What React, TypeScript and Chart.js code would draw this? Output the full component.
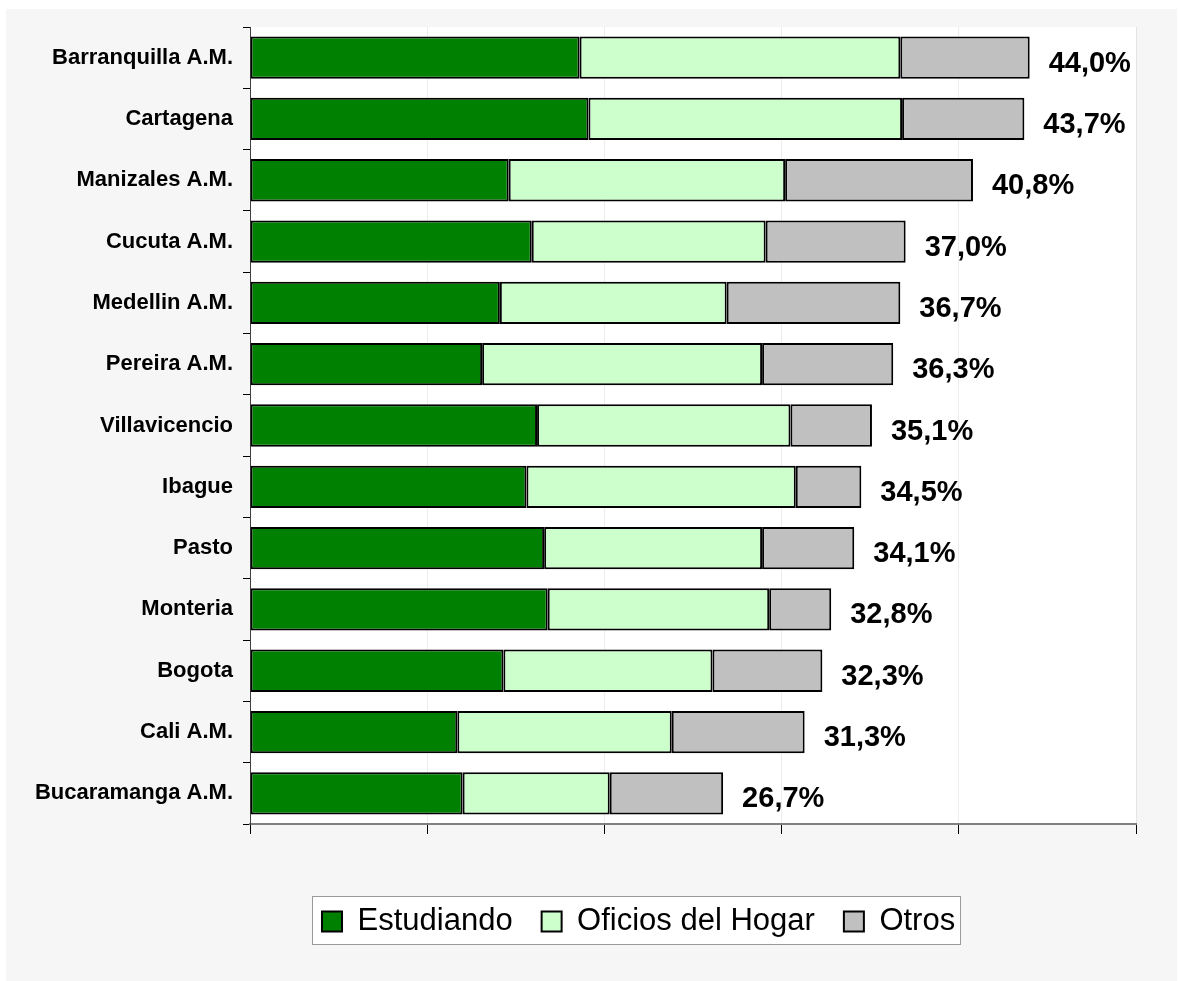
import React, { useEffect, useRef } from 'react';
import { Chart, registerables } from 'chart.js';

Chart.register(...registerables);

const categories = [
  'Barranquilla A.M.',
  'Cartagena',
  'Manizales A.M.',
  'Cucuta A.M.',
  'Medellin A.M.',
  'Pereira A.M.',
  'Villavicencio',
  'Ibague',
  'Pasto',
  'Monteria',
  'Bogota',
  'Cali A.M.',
  'Bucaramanga A.M.',
];

const estudiando = [18.6, 19.1, 14.6, 15.9, 14.1, 13.1, 16.2, 15.6, 16.6, 16.8, 14.3, 11.7, 12.0];
const oficiosHogar = [18.1, 17.7, 15.6, 13.2, 12.8, 15.8, 14.3, 15.2, 12.3, 12.5, 11.8, 12.1, 8.3];
const otros = [7.3, 6.9, 10.6, 7.9, 9.8, 7.4, 4.6, 3.7, 5.2, 3.5, 6.2, 7.5, 6.4];
const totals = [44.0, 43.7, 40.8, 37.0, 36.7, 36.3, 35.1, 34.5, 34.1, 32.8, 32.3, 31.3, 26.7];

const seriesNames = ['Estudiando', 'Oficios del Hogar', 'Otros'];
const xMin = 0;
const xMax = 50;
const xStep = 10;

const FONT = '"Liberation Sans", Arial, Helvetica, sans-serif';

const decorPlugin = {
  id: 'decor',
  afterLayout(chart: any) {
    const lg = chart.legend;
    if (lg) {
      lg.left += 293;
      lg.right += 293;
    }
  },
  beforeDraw(chart: any) {
    const { ctx, chartArea: a } = chart;
    ctx.save();
    ctx.fillStyle = '#ffffff';
    ctx.fillRect(0, 0, chart.width, chart.height);
    ctx.fillStyle = '#f6f6f6';
    ctx.fillRect(6, 9, chart.width - 7, chart.height - 9);
    ctx.fillStyle = '#ffffff';
    ctx.fillRect(a.left, a.top, a.right - a.left, a.bottom - a.top);
    const hb = chart.legend && chart.legend.legendHitBoxes;
    if (hb && hb.length) {
      const first = hb[0];
      const last = hb[hb.length - 1];
      const l = Math.round(first.left - 10) + 0.5;
      const t = Math.round(first.top - 10) + 0.5;
      const r = Math.round(last.left + last.width + 5) + 0.5;
      const b = Math.round(first.top + first.height + 7) + 0.5;
      ctx.fillStyle = '#ffffff';
      ctx.fillRect(l, t, r - l, b - t);
      ctx.strokeStyle = '#9a9a9a';
      ctx.lineWidth = 1;
      ctx.strokeRect(l, t, r - l, b - t);
    }
    ctx.restore();
  },
  afterDatasetsDraw(chart: any) {
    const { ctx } = chart;
    const xs = chart.scales.x;
    const ys = chart.scales.y;
    ctx.save();
    ctx.fillStyle = '#000000';
    ctx.font = `bold 29px ${FONT}`;
    ctx.textAlign = 'left';
    ctx.textBaseline = 'alphabetic';
    totals.forEach((t, i) => {
      const x = xs.getPixelForValue(t) + 19;
      const y = ys.getPixelForValue(i) + 14;
      ctx.fillText(t.toFixed(1).replace('.', ',') + '%', x, y);
    });
    ctx.restore();
  },
};

export default function App() {
  const ref = useRef<HTMLCanvasElement | null>(null);

  useEffect(() => {
    if (!ref.current) return;
    const common = {
      borderColor: '#000000',
      borderWidth: 2,
      borderSkipped: false,
      barPercentage: 0.69,
      categoryPercentage: 1.0,
    };
    const chart = new Chart(ref.current, {
      type: 'bar',
      data: {
        labels: categories,
        datasets: [
          { label: seriesNames[0], data: estudiando, backgroundColor: '#008000', ...common },
          { label: seriesNames[1], data: oficiosHogar, backgroundColor: '#ccffcc', ...common },
          { label: seriesNames[2], data: otros, backgroundColor: '#c0c0c0', ...common },
        ],
      },
      options: {
        indexAxis: 'y',
        responsive: false,
        animation: false,
        devicePixelRatio: 1,
        layout: { padding: { left: 0, right: 42, top: 27, bottom: 34 } },
        scales: {
          x: {
            stacked: true,
            min: xMin,
            max: xMax,
            ticks: { stepSize: xStep, display: false },
            grid: {
              color: 'rgba(0,0,0,0.07)',
              tickColor: '#000000',
              tickLength: 10,
              drawTicks: true,
            },
            border: { color: '#808080', width: 2 },
            afterFit: (s: any) => {
              s.height = 53;
            },
          },
          y: {
            stacked: true,
            ticks: {
              autoSkip: false,
              color: '#000000',
              padding: 10,
              font: { family: FONT, size: 22, weight: 'bold' },
            },
            grid: {
              drawOnChartArea: false,
              drawTicks: true,
              tickLength: 7,
              tickColor: '#000000',
              offset: true,
            },
            border: { color: '#404040', width: 1 },
            afterFit: (s: any) => {
              s.width = 250;
            },
          },
        },
        plugins: {
          title: { display: false },
          tooltip: { enabled: false },
          legend: {
            display: true,
            position: 'bottom',
            align: 'start',
            labels: {
              boxWidth: 20,
              boxHeight: 20,
              padding: 29,
              color: '#000000',
              font: { family: FONT, size: 31 },
            },
          },
        },
      },
      plugins: [decorPlugin],
    } as any);
    return () => chart.destroy();
  }, []);

  return (
    <div style={{ position: 'fixed', left: 0, top: 0, width: 1178, height: 981, background: '#fff' }}>
      <canvas ref={ref} width={1178} height={981} style={{ display: 'block', width: 1178, height: 981 }} />
    </div>
  );
}
